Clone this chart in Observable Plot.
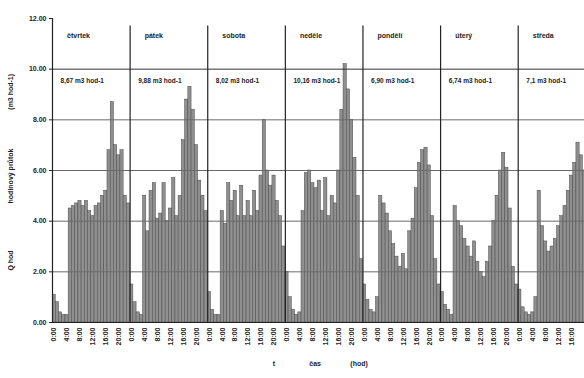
<!DOCTYPE html>
<html>
<head>
<meta charset="utf-8">
<script src="https://cdn.jsdelivr.net/npm/d3@7"></script>
<script src="https://cdn.jsdelivr.net/npm/@observablehq/plot@0.6"></script>
<style>
  html, body { margin: 0; padding: 0; background: #fff; overflow: hidden; }
  #chart { width: 584px; height: 378px; overflow: hidden; }
</style>
</head>
<body>
<div id="chart"></div>
<script>
// Day panels
const days = ["čtvrtek", "pátek", "sobota", "neděle", "pondělí", "úterý", "středa"];
const peakLabels = ["8,67 m3 hod-1", "9,88 m3 hod-1", "8,02 m3 hod-1", "10,16 m3 hod-1", "6,90 m3 hod-1", "6,74 m3 hod-1", "7,1 m3 hod-1"];
// Hourly values (m3/hod), 24 per day
const day1 = [1.1, 0.8, 0.4, 0.3, 0.3, 4.5, 4.6, 4.7, 4.8, 4.6, 4.8, 4.4, 4.2, 4.6, 4.7, 5.0, 5.2, 6.8, 8.7, 7.0, 6.6, 6.8, 5.0, 4.7];
const day2 = [1.5, 0.8, 0.4, 0.3, 5.0, 3.6, 5.2, 5.5, 4.1, 4.3, 5.5, 4.0, 4.5, 5.7, 4.2, 5.0, 7.2, 8.8, 9.3, 8.4, 7.0, 5.6, 5.0, 4.4];
const day3 = [1.2, 0.5, 0.3, 0.3, 4.4, 3.9, 5.5, 4.8, 5.2, 4.2, 5.4, 4.2, 4.8, 4.2, 5.2, 4.4, 5.8, 8.0, 6.0, 5.4, 5.8, 4.8, 4.2, 3.0];
const day4 = [2.0, 1.0, 0.5, 0.3, 0.4, 4.4, 5.9, 6.0, 5.5, 5.3, 5.6, 4.4, 5.7, 4.2, 5.0, 4.7, 6.0, 8.4, 10.2, 9.2, 8.0, 6.5, 5.0, 2.5];
const day5 = [1.5, 0.9, 0.5, 0.4, 1.0, 5.0, 4.7, 4.3, 3.6, 3.1, 2.6, 2.2, 2.7, 2.1, 3.6, 4.1, 5.3, 6.3, 6.8, 6.9, 6.2, 4.2, 2.5, 1.5];
const day6 = [1.2, 0.7, 0.5, 0.3, 4.6, 4.0, 3.8, 3.3, 3.0, 2.6, 3.2, 2.4, 2.0, 1.8, 2.4, 3.0, 4.0, 5.0, 6.0, 6.7, 6.1, 4.5, 2.2, 1.5];
const day7 = [1.3, 0.6, 0.4, 0.3, 0.4, 1.0, 5.2, 3.8, 3.2, 2.8, 3.0, 3.3, 3.8, 4.2, 4.6, 5.2, 5.8, 6.3, 7.1, 6.6, 6.0, 5.0, 3.0, 1.8];
// Tick labels
const hourTicks = [0, 4, 8, 12, 16, 20];
const hourLabels = ["0:00", "4:00", "8:00", "12:00", "16:00", "20:00"];
const yTicks = [0, 2, 4, 6, 8, 10, 12];
const yLabelParts = ["Q hod", "hodinový průtok", "(m3 hod-1)"];
const xLabelParts = ["t", "čas", "(hod)"];

const series = [day1, day2, day3, day4, day5, day6, day7];
const rows = series.flatMap((vals, di) => vals.map((v, h) => ({i: di * 24 + h, v})));
const tickPos = [];
const tickText = new Map();
days.forEach((d, di) => hourTicks.forEach((h, k) => {
  const p = di * 24 + h + 0.5;
  if (p < 164) { tickPos.push(p); tickText.set(p, hourLabels[k]); }
}));
const seps = days.slice(1).map((d, di) => (di + 1) * 24);
const panelInfo = days.map((d, di) => ({day: d, peak: peakLabels[di], x0: di * 24}));

const font = "Liberation Sans, Arial, sans-serif";
const chart = Plot.plot({
  width: 584,
  height: 378,
  marginLeft: 52,
  marginRight: 0,
  marginTop: 18,
  marginBottom: 56,
  style: {fontFamily: font, fontSize: "7px", fontWeight: "bold", background: "#fff", color: "#222"},
  x: {domain: [0, 164.5], axis: null},
  y: {domain: [0, 12], axis: null},
  marks: [
    Plot.rectY(rows, {x1: "i", x2: d => d.i + 1, y: "v", fill: "#8f8f8f", stroke: "#4a4a4a", strokeWidth: 0.5, clip: true}),
    Plot.ruleY([2, 4, 6, 8], {stroke: "#6a6a6a", strokeWidth: 1}),
    Plot.ruleY([10], {stroke: "#333", strokeWidth: 1}),
    Plot.ruleY([0], {stroke: "#222", strokeWidth: 1}),
    Plot.ruleX(seps, {y1: 0, y2: 11.7, stroke: "#222", strokeWidth: 1.2}),
    Plot.ruleX([0], {y1: 0, y2: 12, stroke: "#222", strokeWidth: 1.2}),
    Plot.text(panelInfo, {x: d => d.x0 + 4.5, y: 11.3, text: "day", textAnchor: "start", fontSize: 7, fontWeight: "bold", fill: "#222", clip: true}),
    Plot.text(panelInfo, {x: d => d.x0 + 2.5, y: 9.55, text: "peak", textAnchor: "start", fontSize: 6.5, fontWeight: "bold", fill: "#222", clip: true}),
    Plot.axisY({ticks: yTicks, tickFormat: d => d.toFixed(2), tickSize: 3, tickPadding: 3, label: null, fontSize: 7, fontWeight: "bold"}),
    Plot.axisX({ticks: tickPos, tickFormat: d => tickText.get(d), tickRotate: -90, tickSize: 0, tickPadding: 5, label: null, fontSize: 7, fontWeight: "bold"}),
    Plot.text(yLabelParts, {frameAnchor: "left", y: (d, i) => [2.05, 4.7, 8.4][i], text: d => d, rotate: -90, dx: -42, fontSize: 7, fontWeight: "bold"}),
    Plot.text(xLabelParts, {frameAnchor: "bottom", x: (d, i) => [68.5, 81.2, 94.8][i], text: d => d, dy: 43, fontSize: 7, fontWeight: "bold"})
  ]
});
document.getElementById("chart").append(chart);
</script>
</body>
</html>
